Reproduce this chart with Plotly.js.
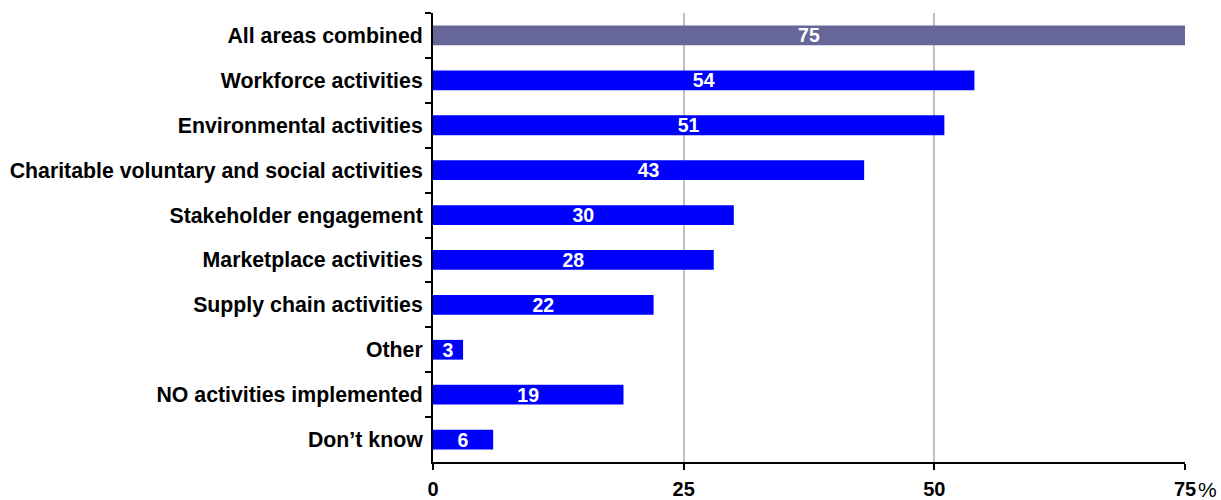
<!DOCTYPE html>
<html>
<head>
<meta charset="utf-8">
<script src="https://cdn.plot.ly/plotly-3.0.1.min.js"></script>
<style>body{margin:0;padding:0;background:#fff}#chart{width:1221px;height:500px}</style>
</head>
<body>
<div id="chart"></div>
<script>
const categories = [
  "All areas combined",
  "Workforce activities",
  "Environmental activities",
  "Charitable voluntary and social activities",
  "Stakeholder engagement",
  "Marketplace activities",
  "Supply chain activities",
  "Other",
  "NO activities implemented",
  "Don\u2019t know"
];
const values = [75, 54, 51, 43, 30, 28, 22, 3, 19, 6];
const tickVals = [0, 25, 50, 75];
const tickLabels = ["0", "25", "50", "75"];

const colors = categories.map((c, i) => i === 0 ? "#666699" : "#0000FF");
const font = "Arial, 'Liberation Sans', sans-serif";

const trace = {
  type: "bar",
  orientation: "h",
  y: categories,
  x: values,
  marker: {color: colors, line: {width: 0}},
  text: values.map(String),
  textposition: "inside",
  insidetextanchor: "middle",
  constraintext: "none",
  textangle: 0,
  textfont: {family: font, size: 19.5, color: "#ffffff", weight: "bold"},
  hoverinfo: "none",
  cliponaxis: false
};

const layout = {
  width: 1221,
  height: 500,
  margin: {l: 433, r: 36, t: 13, b: 38, pad: 0},
  paper_bgcolor: "#ffffff",
  plot_bgcolor: "#ffffff",
  showlegend: false,
  bargap: 0.56,
  font: {family: font, color: "#000000"},
  xaxis: {
    range: [0, 75],
    tickvals: tickVals,
    ticktext: tickLabels,
    showgrid: true,
    gridcolor: "#c0c0c0",
    gridwidth: 2,
    zeroline: false,
    showline: true,
    linecolor: "#000000",
    linewidth: 2,
    ticks: "outside",
    ticklen: 6,
    tickwidth: 2,
    tickcolor: "#000000",
    ticklabelstandoff: 2,
    tickfont: {family: font, size: 20, color: "#000000", weight: "bold"},
    fixedrange: true
  },
  yaxis: {
    type: "category",
    autorange: "reversed",
    tickson: "boundaries",
    showgrid: false,
    zeroline: false,
    showline: true,
    linecolor: "#000000",
    linewidth: 2,
    ticks: "outside",
    ticklen: 6,
    tickwidth: 2,
    tickcolor: "#000000",
    ticklabelstandoff: 4,
    tickfont: {family: font, size: 21.3, color: "#000000", weight: "bold"},
    fixedrange: true
  },
  annotations: [{
    xref: "paper", yref: "paper",
    x: 1, y: 0,
    xanchor: "left", yanchor: "top",
    xshift: 11, yshift: -14,
    text: "%",
    showarrow: false,
    font: {family: font, size: 21, color: "#000000"}
  }]
};

Plotly.newPlot("chart", [trace], layout, {staticPlot: true, displayModeBar: false});
</script>
</body>
</html>
